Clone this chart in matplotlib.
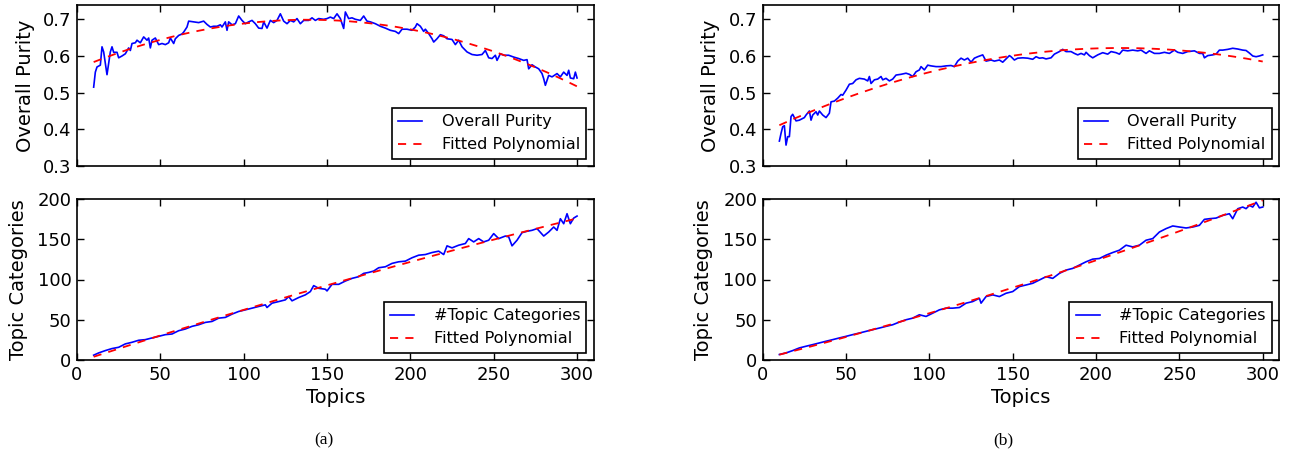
import matplotlib
matplotlib.use("Agg")
import matplotlib.pyplot as plt
import numpy as np

# ---- panel (a): overall purity ----
topics_a_top = [10, 11, 12, 14, 15, 16, 18, 20, 21, 22, 24, 25, 27, 29, 31, 32, 33, 35, 36, 38,
                40, 42, 43, 44, 45, 47, 49, 51, 53, 55, 56, 58, 59, 61, 63, 64, 66, 67, 70, 73,
                76, 78, 80, 82, 84, 86, 87, 89, 90, 91, 93, 95, 97, 99, 101, 103, 105, 107, 109, 111,
                112, 114, 116, 118, 120, 122, 124, 126, 128, 130, 132, 134, 136, 139, 141, 143, 145, 148, 150, 152,
                154, 156, 158, 160, 161, 163, 165, 167, 170, 172, 174, 176, 179, 182, 185, 188, 191, 193, 195, 198,
                201, 203, 204, 206, 208, 209, 211, 213, 214, 216, 218, 220, 222, 225, 227, 229, 231, 234, 237, 240,
                243, 245, 247, 249, 251, 252, 254, 256, 259, 262, 265, 268, 270, 271, 273, 275, 277, 279, 280, 281,
                283, 285, 288, 290, 292, 294, 295, 296, 298, 299, 300]
purity_a = [0.515, 0.556, 0.570, 0.575, 0.625, 0.611, 0.549, 0.611, 0.625, 0.610, 0.610, 0.595, 0.600, 0.606, 0.622, 0.615, 0.634, 0.636, 0.643, 0.636,
            0.652, 0.643, 0.649, 0.622, 0.643, 0.649, 0.631, 0.634, 0.631, 0.636, 0.649, 0.634, 0.647, 0.656, 0.660, 0.665, 0.679, 0.695, 0.693, 0.691,
            0.695, 0.686, 0.679, 0.681, 0.681, 0.685, 0.679, 0.693, 0.670, 0.693, 0.685, 0.688, 0.709, 0.697, 0.688, 0.693, 0.697, 0.688, 0.676, 0.675,
            0.693, 0.676, 0.697, 0.691, 0.697, 0.715, 0.695, 0.688, 0.697, 0.693, 0.702, 0.688, 0.697, 0.697, 0.704, 0.697, 0.702, 0.700, 0.702, 0.706,
            0.702, 0.715, 0.702, 0.675, 0.720, 0.702, 0.704, 0.700, 0.697, 0.709, 0.695, 0.693, 0.688, 0.681, 0.676, 0.670, 0.667, 0.661, 0.673, 0.673,
            0.670, 0.679, 0.688, 0.681, 0.667, 0.673, 0.661, 0.647, 0.638, 0.647, 0.658, 0.655, 0.647, 0.645, 0.631, 0.643, 0.625, 0.611, 0.604, 0.602,
            0.604, 0.615, 0.595, 0.593, 0.602, 0.588, 0.606, 0.602, 0.602, 0.597, 0.593, 0.588, 0.590, 0.565, 0.576, 0.570, 0.565, 0.552, 0.538, 0.520,
            0.547, 0.543, 0.552, 0.543, 0.556, 0.547, 0.561, 0.540, 0.538, 0.556, 0.540]

# ---- panel (a): number of topic categories ----
topics_a_bot = [10, 13, 17, 21, 25, 29, 33, 37, 41, 45, 49, 53, 57, 61, 65, 69, 73, 77, 81, 85,
                89, 93, 97, 101, 105, 109, 113, 114, 117, 121, 125, 127, 129, 133, 137, 140, 142, 145, 149, 150,
                153, 157, 161, 165, 169, 172, 175, 178, 181, 185, 189, 193, 197, 201, 205, 209, 213, 217, 220, 222,
                225, 229, 233, 235, 238, 241, 244, 247, 250, 253, 257, 259, 261, 264, 267, 270, 273, 276, 280, 283,
                286, 288, 290, 292, 294, 296, 298, 300]
categories_a = [6.0, 8.8, 11.7, 14.2, 15.8, 20.0, 22.0, 24.5, 25.3, 27.4, 29.4, 31.5, 32.3, 36.4, 38.5, 41.8, 43.8, 46.7, 47.9, 52.0,
                52.9, 57.0, 60.3, 62.3, 64.4, 66.5, 68.5, 65.2, 70.6, 72.6, 74.7, 78.8, 73.5, 77.6, 80.9, 85.0, 92.4, 89.1, 87.9, 85.8,
                94.0, 94.0, 98.1, 101.4, 103.5, 107.6, 108.8, 110.5, 114.6, 115.8, 120.0, 122.0, 122.8, 127.0, 130.2, 131.0, 133.5, 135.2, 131.0, 141.8,
                139.3, 142.6, 144.7, 150.8, 146.7, 150.8, 146.7, 148.8, 157.0, 150.8, 154.0, 152.9, 141.8, 148.8, 158.2, 159.9, 161.1, 163.2, 154.0, 159.0,
                165.2, 161.1, 175.5, 169.3, 181.7, 169.3, 176.3, 178.8]

# ---- panel (b): overall purity ----
topics_b_top = [10, 11, 12, 13, 14, 15, 16, 17, 18, 20, 22, 25, 26, 28, 29, 30, 32, 33, 34, 36,
                38, 40, 41, 43, 45, 47, 48, 50, 52, 54, 56, 58, 61, 63, 64, 65, 67, 69, 71, 72,
                74, 76, 78, 80, 83, 86, 88, 90, 92, 94, 95, 97, 99, 101, 104, 107, 110, 113, 115, 117,
                119, 121, 123, 125, 127, 129, 132, 134, 137, 139, 142, 144, 146, 148, 149, 151, 153, 156, 159, 162,
                164, 166, 168, 170, 173, 175, 178, 180, 182, 185, 187, 189, 191, 193, 194, 196, 198, 201, 204, 207,
                209, 212, 214, 216, 219, 222, 225, 227, 230, 232, 235, 238, 241, 244, 247, 249, 252, 255, 259, 262,
                264, 265, 267, 270, 272, 274, 276, 279, 282, 285, 288, 290, 292, 294, 296, 298, 300]
purity_b = [0.368, 0.389, 0.407, 0.410, 0.357, 0.380, 0.380, 0.435, 0.441, 0.423, 0.425, 0.432, 0.439, 0.450, 0.425, 0.439, 0.448, 0.439, 0.450, 0.439,
            0.432, 0.444, 0.475, 0.477, 0.485, 0.495, 0.493, 0.507, 0.523, 0.525, 0.535, 0.539, 0.537, 0.532, 0.544, 0.525, 0.535, 0.537, 0.544, 0.535,
            0.539, 0.532, 0.537, 0.548, 0.550, 0.553, 0.550, 0.544, 0.557, 0.562, 0.571, 0.562, 0.575, 0.573, 0.571, 0.571, 0.573, 0.574, 0.571, 0.586,
            0.594, 0.589, 0.594, 0.583, 0.594, 0.598, 0.603, 0.586, 0.589, 0.586, 0.589, 0.583, 0.592, 0.601, 0.598, 0.589, 0.594, 0.595, 0.594, 0.591,
            0.598, 0.594, 0.595, 0.592, 0.595, 0.605, 0.612, 0.618, 0.612, 0.612, 0.607, 0.603, 0.607, 0.603, 0.610, 0.601, 0.595, 0.603, 0.609, 0.605,
            0.612, 0.609, 0.605, 0.616, 0.614, 0.616, 0.614, 0.616, 0.607, 0.614, 0.607, 0.607, 0.610, 0.607, 0.616, 0.610, 0.607, 0.612, 0.614, 0.607,
            0.607, 0.595, 0.601, 0.603, 0.605, 0.616, 0.616, 0.618, 0.621, 0.619, 0.616, 0.615, 0.608, 0.600, 0.598, 0.600, 0.603]

# ---- panel (b): number of topic categories ----
topics_b_bot = [10, 14, 18, 22, 26, 30, 34, 38, 42, 46, 50, 54, 58, 62, 66, 70, 74, 78, 82, 86,
                90, 94, 98, 102, 106, 110, 114, 118, 122, 126, 130, 131, 134, 138, 142, 146, 150, 154, 158, 162,
                166, 170, 174, 178, 182, 186, 190, 194, 198, 202, 206, 210, 214, 218, 222, 226, 230, 234, 238, 242,
                246, 250, 254, 258, 262, 265, 268, 272, 276, 280, 282, 285, 288, 290, 292, 294, 296, 298, 300]
categories_b = [6.8, 8.8, 11.7, 15.0, 17.1, 19.1, 21.2, 23.3, 25.3, 27.4, 29.4, 31.5, 33.5, 35.6, 37.7, 39.7, 41.8, 43.8, 47.1, 50.0,
                52.0, 56.2, 54.1, 58.2, 62.3, 64.4, 64.4, 65.2, 70.6, 72.6, 76.7, 70.6, 78.8, 80.9, 78.8, 82.9, 85.0, 91.2, 93.2, 95.3,
                99.4, 103.5, 101.4, 107.6, 111.7, 113.8, 117.9, 122.0, 125.3, 126.1, 130.2, 133.5, 136.4, 142.6, 140.5, 142.6, 148.8, 150.8, 159.0, 163.2,
                166.5, 165.2, 164.0, 165.2, 167.3, 174.7, 175.5, 176.3, 179.6, 181.7, 175.5, 187.9, 190.0, 188.0, 192.0, 190.0, 196.0, 189.0, 190.0]

W, H = 1291, 459
fig = plt.figure(figsize=(W / 100, H / 100), dpi=100)
plt.rcParams['font.family'] = ['DejaVu Sans']


def box(x0, ytop, w, h):
    return [x0 / W, 1 - (ytop + h) / H, w / W, h / H]


def style(ax):
    ax.tick_params(direction='in', top=True, right=True, length=5, width=1,
                   labelsize=13, pad=4)
    for s in ax.spines.values():
        s.set_linewidth(1.2)
    ax.set_xlim(0, 310)
    ax.set_xticks([0, 50, 100, 150, 200, 250, 300])


def draw(ax, x, y, label):
    x = np.asarray(x, float)
    y = np.asarray(y, float)
    coef = np.polyfit(x, y, 2)
    xf = np.arange(10, 301)
    ax.plot(x, y, color='#0000ff', lw=1.2, label=label)
    ax.plot(xf, np.polyval(coef, xf), color='#ff0000', lw=1.3, dashes=(4.5, 4),
            label='Fitted Polynomial')
    leg = ax.legend(loc='lower right', fontsize=11.6, fancybox=False, framealpha=1,
                    edgecolor='black', handlelength=1.5, handletextpad=1.2,
                    borderaxespad=0.45)
    leg.get_frame().set_linewidth(1.2)


panels = [
    (77, topics_a_top, purity_a, topics_a_bot, categories_a, 324, '(a)'),
    (762.7, topics_b_top, purity_b, topics_b_bot, categories_b, 1003, '(b)'),
]
for x0, xt, yt, xb, yb, capx, cap in panels:
    ax1 = fig.add_axes(box(x0, 5, 516.7, 161))
    draw(ax1, xt, yt, 'Overall Purity')
    style(ax1)
    ax1.set_ylim(0.3, 0.739)
    ax1.set_yticks([0.3, 0.4, 0.5, 0.6, 0.7])
    ax1.set_xticklabels([])
    ax1.set_ylabel('Overall Purity', fontsize=14, labelpad=6)

    ax2 = fig.add_axes(box(x0, 199, 516.7, 161))
    draw(ax2, xb, yb, '#Topic Categories')
    style(ax2)
    ax2.set_ylim(0, 200)
    ax2.set_yticks([0, 50, 100, 150, 200])
    ax2.set_ylabel('Topic Categories', fontsize=14, labelpad=7)
    ax2.set_xlabel('Topics', fontsize=14, labelpad=3)

    fig.text(capx / W, 1 - 440 / H, cap, ha='center', va='center',
             fontsize=12.5, family='Liberation Serif')

fig.savefig('out.png', dpi=100)
